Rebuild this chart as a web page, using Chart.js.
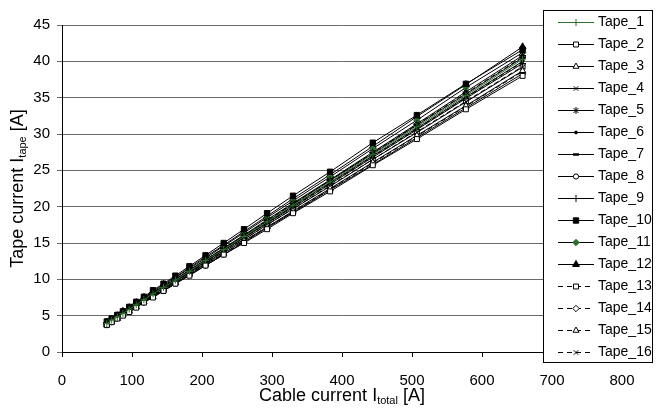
<!DOCTYPE html>
<html><head><meta charset="utf-8">
<script src="https://cdn.jsdelivr.net/npm/chart.js@4.4.1/dist/chart.umd.min.js"></script>
<style>html,body{margin:0;padding:0;background:#fff;}canvas{display:block;}</style>
</head><body>
<canvas id="c" width="657" height="411"></canvas>
<script>
// ---- data ----
const xValues = [64, 71, 79, 87, 96, 106, 117, 130, 145, 162, 182, 205, 231, 260, 293, 330, 383, 444, 507, 577, 658];
const seriesNames = ['Tape_1','Tape_2','Tape_3','Tape_4','Tape_5','Tape_6','Tape_7','Tape_8','Tape_9','Tape_10','Tape_11','Tape_12','Tape_13','Tape_14','Tape_15','Tape_16'];
const tape1  = [3.9, 4.4, 4.8, 5.3, 5.9, 6.5, 7.2, 8.0, 8.9, 9.9, 11.1, 12.6, 14.1, 15.9, 17.9, 20.2, 23.4, 27.2, 31.0, 35.3, 40.3];
const tape2  = [3.7, 4.1, 4.6, 5.0, 5.5, 6.1, 6.8, 7.5, 8.4, 9.4, 10.5, 11.9, 13.4, 15.0, 16.9, 19.1, 22.1, 25.7, 29.3, 33.4, 38.0];
const tape3  = [3.8, 4.2, 4.6, 5.1, 5.6, 6.2, 6.9, 7.6, 8.5, 9.5, 10.7, 12.1, 13.6, 15.3, 17.2, 19.4, 22.5, 26.1, 29.8, 33.9, 38.7];
const tape4  = [3.8, 4.2, 4.7, 5.2, 5.7, 6.3, 7.0, 7.7, 8.6, 9.7, 10.9, 12.2, 13.8, 15.5, 17.5, 19.7, 22.8, 26.5, 30.2, 34.4, 39.2];
const tape5  = [4.0, 4.4, 4.9, 5.4, 6.0, 6.6, 7.3, 8.1, 9.0, 10.0, 11.3, 12.7, 14.3, 16.1, 18.2, 20.5, 23.7, 27.5, 31.4, 35.8, 40.8];
const tape6  = [3.9, 4.3, 4.8, 5.3, 5.8, 6.4, 7.1, 7.9, 8.8, 9.9, 11.1, 12.5, 14.0, 15.8, 17.8, 20.1, 23.3, 27.0, 30.8, 35.1, 40.0];
const tape7  = [3.9, 4.4, 4.9, 5.4, 5.9, 6.5, 7.2, 8.0, 8.9, 10.0, 11.2, 12.6, 14.2, 16.0, 18.0, 20.3, 23.6, 27.3, 31.2, 35.5, 40.5];
const tape8  = [3.7, 4.1, 4.6, 5.1, 5.6, 6.2, 6.8, 7.6, 8.4, 9.4, 10.6, 11.9, 13.4, 15.1, 17.1, 19.2, 22.3, 25.8, 29.5, 33.6, 38.3];
const tape9  = [3.9, 4.3, 4.8, 5.3, 5.8, 6.4, 7.1, 7.9, 8.8, 9.8, 11.0, 12.4, 14.0, 15.7, 17.7, 19.9, 23.1, 26.8, 30.6, 34.9, 39.7];
const tape10 = [4.2, 4.6, 5.1, 5.6, 6.2, 6.9, 7.6, 8.5, 9.4, 10.5, 11.8, 13.3, 15.0, 16.9, 19.1, 21.5, 24.8, 28.8, 32.6, 36.9, 41.6];
const tape11 = [4.0, 4.5, 5.0, 5.5, 6.0, 6.7, 7.4, 8.2, 9.1, 10.2, 11.5, 12.9, 14.6, 16.4, 18.5, 20.8, 24.1, 28.0, 31.9, 36.4, 41.2];
const tape12 = [4.1, 4.5, 5.0, 5.6, 6.1, 6.8, 7.5, 8.3, 9.3, 10.3, 11.6, 13.1, 14.7, 16.6, 18.7, 21.1, 24.4, 28.3, 32.4, 36.8, 42.0];
const tape13 = [3.8, 4.2, 4.7, 5.2, 5.7, 6.3, 7.0, 7.8, 8.7, 9.7, 10.9, 12.3, 13.8, 15.5, 17.5, 19.7, 22.9, 26.5, 30.3, 34.5, 39.3];
const tape14 = [4.0, 4.4, 4.9, 5.4, 5.9, 6.5, 7.2, 8.0, 9.0, 10.0, 11.2, 12.7, 14.3, 16.0, 18.1, 20.4, 23.6, 27.4, 31.3, 35.6, 40.6];
const tape15 = [3.7, 4.2, 4.6, 5.1, 5.6, 6.2, 6.9, 7.6, 8.5, 9.5, 10.7, 12.0, 13.5, 15.2, 17.2, 19.3, 22.4, 26.0, 29.7, 33.8, 38.6];
const tape16 = [3.9, 4.3, 4.8, 5.3, 5.8, 6.4, 7.1, 7.9, 8.8, 9.8, 11.0, 12.4, 14.0, 15.8, 17.8, 20.0, 23.2, 26.9, 30.7, 35.0, 39.9];
const seriesValues = [tape1,tape2,tape3,tape4,tape5,tape6,tape7,tape8,tape9,tape10,tape11,tape12,tape13,tape14,tape15,tape16];
const xTicks = [0,100,200,300,400,500,600,700,800];
const yTicks = [0,5,10,15,20,25,30,35,40,45];

// ---- styles ----
const GREEN = '#2f6b2f';
const DASH = [5,3];
const styles = [
  {ps:'cross',    c:GREEN, line:GREEN, fill:GREEN, r:3.5},
  {ps:'rect',     fill:'#fff', r:3.5},
  {ps:'triangle', fill:'#fff', r:3.5},
  {ps:'crossRot', r:3.2},
  {ps:'star',     r:3.5},
  {ps:'circle',   fill:'#000', r:1.4},
  {ps:'line',     r:3, bw:2.5},
  {ps:'circle',   fill:'#fff', r:2.6},
  {ps:'cross',    r:3.5},
  {ps:'rect',     fill:'#000', r:3.8},
  {ps:'rectRot',  c:GREEN, fill:GREEN, r:3.2},
  {ps:'triangle', fill:'#000', r:4},
  {ps:'rect',     fill:'#fff', r:3.5, dash:DASH},
  {ps:'rectRot',  fill:'#fff', r:3.2, dash:DASH},
  {ps:'triangle', fill:'#fff', r:3.5, dash:DASH},
  {ps:'crossRot', r:3.2, dash:DASH}
];

const FONT = "'Liberation Sans', Arial, Helvetica, sans-serif";
Chart.defaults.font.family = FONT;
Chart.defaults.color = '#000';

const datasets = seriesNames.map((name, i) => {
  const s = styles[i];
  return {
    label: name,
    data: xValues.map((x, j) => ({x: x, y: seriesValues[i][j]})),
    showLine: true,
    borderColor: s.line || '#000',
    borderWidth: 1,
    borderDash: s.dash || [],
    pointStyle: s.ps,
    pointRadius: s.r,
    pointHoverRadius: s.r,
    pointBackgroundColor: s.fill || '#000',
    pointBorderColor: s.c || '#000',
    pointBorderWidth: s.bw || 1,
    fill: false,
    tension: 0
  };
});

function drawMarker(ctx, s, x, y) {
  ctx.save();
  ctx.setLineDash([]);
  ctx.strokeStyle = s.c || '#000';
  ctx.fillStyle = s.fill || '#000';
  ctx.lineWidth = s.bw || 1;
  if (Chart.helpers && Chart.helpers.drawPoint) {
    Chart.helpers.drawPoint(ctx, {pointStyle: s.ps, radius: s.r, rotation: 0, borderWidth: s.bw || 1}, x, y);
  }
  ctx.restore();
}

function drawSubTitle(ctx, parts, cx, cy) {
  // parts: [text, isSub]
  const main = "18px " + FONT, sub = "11px " + FONT;
  let total = 0;
  parts.forEach(p => { ctx.font = p[1] ? sub : main; total += ctx.measureText(p[0]).width; });
  let x = cx - total / 2;
  ctx.textBaseline = 'middle';
  ctx.textAlign = 'left';
  ctx.fillStyle = '#000';
  parts.forEach(p => {
    ctx.font = p[1] ? sub : main;
    ctx.fillText(p[0], x, p[1] ? cy + 5 : cy);
    x += ctx.measureText(p[0]).width;
  });
}

const overlay = {
  id: 'overlay',
  afterDraw(chart) {
    const ctx = chart.ctx;
    const ca = chart.chartArea;
    // axis titles
    ctx.save();
    drawSubTitle(ctx, [['Cable current I', false], ['total', true], [' [A]', false]], (ca.left + ca.right) / 2 + 0, 396);
    ctx.restore();
    ctx.save();
    ctx.translate(18, (ca.top + ca.bottom) / 2);
    ctx.rotate(-Math.PI / 2);
    drawSubTitle(ctx, [['Tape current I', false], ['tape', true], [' [A]', false]], 0, 0);
    ctx.restore();
    // legend box
    const L = 543.5, T = 10.5, R = 652.5, B = 362.5;
    ctx.save();
    ctx.fillStyle = '#fff';
    ctx.fillRect(L, T, R - L, B - T);
    ctx.strokeStyle = '#000';
    ctx.lineWidth = 1;
    ctx.setLineDash([]);
    ctx.strokeRect(L, T, R - L, B - T);
    ctx.font = "14px " + FONT;
    ctx.textBaseline = 'middle';
    ctx.textAlign = 'left';
    chart.data.datasets.forEach((ds, i) => {
      const s = styles[i];
      const y = Math.round(21.7 + 22 * i) + 0.5;
      ctx.save();
      ctx.strokeStyle = s.line || '#000';
      ctx.lineWidth = 1;
      ctx.setLineDash(s.dash ? [5, 4] : []);
      ctx.beginPath();
      ctx.moveTo(558, y);
      ctx.lineTo(594, y);
      ctx.stroke();
      ctx.restore();
      drawMarker(ctx, s, 576, y);
      ctx.fillStyle = '#000';
      ctx.fillText(ds.label, 598, y);
    });
    ctx.restore();
  }
};

new Chart(document.getElementById('c'), {
  type: 'scatter',
  data: {datasets},
  options: {
    responsive: false,
    animation: false,
    events: [],
    layout: {padding: {left: 0, right: 35, top: 25, bottom: 0}},
    plugins: {legend: {display: false}, tooltip: {enabled: false}, title: {display: false}},
    scales: {
      x: {
        type: 'linear', min: 0, max: 800,
        afterFit(s) { s.height = 59; },
        afterBuildTicks(s) { s.ticks = xTicks.map(v => ({value: v})); },
        ticks: {font: {size: 15}, color: '#000', padding: 15, maxRotation: 0},
        grid: {drawOnChartArea: false, drawTicks: true, tickLength: 5, color: '#000'},
        border: {display: true, color: '#000', width: 1},
        title: {display: false}
      },
      y: {
        type: 'linear', min: 0, max: 45,
        afterFit(s) { s.width = 62; },
        afterBuildTicks(s) { s.ticks = yTicks.map(v => ({value: v})); },
        ticks: {font: {size: 15}, color: '#000', padding: 7},
        grid: {drawOnChartArea: true, drawTicks: true, tickLength: 5, color: '#6a6a6a'},
        border: {display: true, color: '#000', width: 1},
        title: {display: false}
      }
    }
  },
  plugins: [overlay]
});
</script>
</body></html>
